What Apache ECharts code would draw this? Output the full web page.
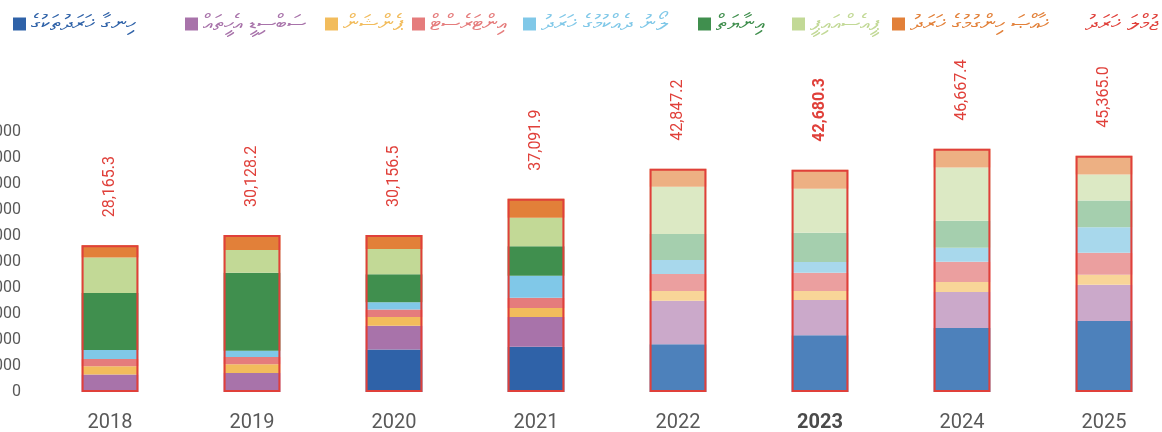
<!DOCTYPE html>
<html><head><meta charset="utf-8">
<script src="https://cdn.jsdelivr.net/npm/echarts@6/dist/echarts.min.js"></script>
<style>html,body{margin:0;padding:0;background:#fff}#c{width:1162px;height:432px}</style>
</head><body><div id="c"></div>
<script>
// ---- data ----
const years = ['2018', '2019', '2020', '2021', '2022', '2023', '2024', '2025'];
const highlightYear = '2023';
const firstLightYear = '2022';

const nameBlue = 'ހިނގާ ޚަރަދުތަކުގެ';
const namePurple = 'ސަބްސިޑީ އެހީތައް';
const nameYellow = 'ޕެންޝަން';
const namePink = 'އިންޓަރެސްޓް';
const nameLightBlue = 'ލޯނު ދެއްކުމުގެ ޚަރަދު';
const nameGreen = 'އިނާޔަތް';
const nameLightGreen = 'ޕީއެސްއައިޕީ';
const nameOrange = 'ޚާއްޞަ ހިންގުމުގެ ޚަރަދު';
const nameTotal = 'ޖުމްލަ ޚަރަދު';

const valBlue = [0, 0, 8146.5, 8681.9, 9187.2, 10910.3, 12267.4, 13625];
const valPurple = [3365.3, 3658.2, 4550, 5720, 8330, 6730, 6930, 6940];
const valYellow = [1600, 1680, 1680, 1730, 1870, 1730, 1930, 1930];
const valPink = [1350, 1400, 1480, 1980, 3270, 3530, 3850, 4240];
const valLightBlue = [1750, 1160, 1350, 4190, 2690, 2060, 2690, 4880];
const valGreen = [10950, 14990, 5380, 5650, 5000, 5590, 5200, 5140];
const valLightGreen = [6800, 4360, 4870, 5480, 9040, 8470, 10200, 5010];
const valOrange = [2350, 2880, 2700, 3660, 3460, 3660, 3600, 3600];
const totals = [28165.3, 30128.2, 30156.5, 37091.9, 42847.2, 42680.3, 46667.4, 45365.0];

const yMin = 0, yMax = 50000, yStep = 5000;

// ---- styles ----
const darkColors = ['#2f62a8', '#a873aa', '#f2bc5c', '#e57c7c', '#80c8e8', '#408f4e', '#c2d996', '#e28039'];
const lightColors = ['#4d81bb', '#cba9ca', '#f8d598', '#eb9f9f', '#a8d8ec', '#a5cfae', '#dce9c4', '#edb083'];
const totalColor = '#e0403a';
const legendLefts = [8, 180, 320, 407, 518, 693, 787, 887, 1062];

const stackNames = [nameBlue, namePurple, nameYellow, namePink, nameLightBlue, nameGreen, nameLightGreen, nameOrange];
const stackVals = [valBlue, valPurple, valYellow, valPink, valLightBlue, valGreen, valLightGreen, valOrange];
const lightFrom = years.indexOf(firstLightYear);
const hiIdx = years.indexOf(highlightYear);

const fmt = v => v.toLocaleString('en-US', {minimumFractionDigits: 1, maximumFractionDigits: 1});

const series = stackNames.map((n, k) => ({
  name: n, type: 'bar', stack: 'all', barWidth: '40%',
  itemStyle: {color: darkColors[k]},
  emphasis: {disabled: true},
  data: stackVals[k].map((v, i) => ({value: v, itemStyle: {color: i >= lightFrom ? lightColors[k] : darkColors[k]}}))
}));
series.push({
  name: nameTotal, type: 'bar', barWidth: '40%', barGap: '-100%', z: 10,
  itemStyle: {color: 'rgba(0,0,0,0)', borderColor: totalColor, borderWidth: 2},
  emphasis: {disabled: true},
  label: {show: true, position: 'top', rotate: 90, align: 'left', verticalAlign: 'middle', distance: 28,
    color: totalColor, fontSize: 16, fontFamily: 'Roboto', formatter: p => fmt(p.value)},
  data: totals.map((v, i) => ({value: v, label: i === hiIdx ? {fontWeight: 'bold'} : {}}))
});

const allNames = stackNames.concat([nameTotal]);
const allColors = darkColors.concat([totalColor]);
const legends = allNames.map((n, k) => ({
  left: legendLefts[k], top: 8, itemWidth: 13, itemHeight: 13, itemGap: 0,
  icon: k === allNames.length - 1 ? 'none' : 'rect',
  selectedMode: false,
  textStyle: {color: allColors[k], fontSize: 22, fontFamily: 'DejaVu Sans'},
  data: [{name: n, itemStyle: {color: allColors[k]}}]
}));

const chart = echarts.init(document.getElementById('c'), null, {renderer: 'canvas'});
chart.setOption({
  animation: false,
  backgroundColor: '#fff',
  legend: legends,
  grid: {left: 39, width: 1136, top: 131.5, height: 260.5, containLabel: false, outerBoundsMode: 'none'},
  xAxis: {
    type: 'category',
    data: years.map((y, i) => i === hiIdx ? {value: y, textStyle: {fontWeight: 'bold', color: '#4a4a4a'}} : y),
    axisLine: {show: false}, axisTick: {show: false},
    axisLabel: {color: '#595959', fontSize: 20, fontFamily: 'Roboto', margin: 21}
  },
  yAxis: {
    type: 'value', min: yMin, max: yMax, interval: yStep,
    splitLine: {show: false}, axisLine: {show: false}, axisTick: {show: false},
    axisLabel: {color: '#595959', fontSize: 16, fontFamily: 'Roboto', margin: 18,
      formatter: v => v.toLocaleString('en-US')}
  },
  series: series
});
</script></body></html>
